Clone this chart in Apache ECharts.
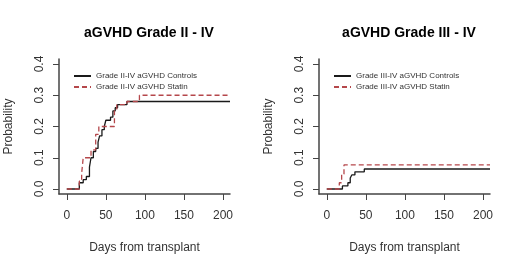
<!DOCTYPE html>
<html>
<head>
<meta charset="utf-8">
<script src="https://cdn.jsdelivr.net/npm/echarts@6/dist/echarts.min.js"></script>
<style>
  html, body { margin: 0; padding: 0; background: #fff; }
  #main { width: 520px; height: 269px; }
</style>
</head>
<body>
<div id="main"></div>
<script>
// panel titles and names
var titles = ['aGVHD Grade II - IV', 'aGVHD Grade III - IV'];
var namesLeft = ['Grade II-IV aGVHD Controls', 'Grade II-IV aGVHD Statin'];
var namesRight = ['Grade III-IV aGVHD Controls', 'Grade III-IV aGVHD Statin'];

// tick labels
var xTicks = [0, 50, 100, 150, 200];
var yTicks = [0, 0.1, 0.2, 0.3, 0.4];

// Grade II-IV, controls (day where step starts, cumulative probability)
var g2CtrlDays = [0, 16, 21, 25, 29, 31, 34, 37, 40, 42, 45, 48, 50, 56, 59, 62, 65, 77, 209];
var g2CtrlVals = [0, 0.02, 0.03, 0.04, 0.07, 0.10, 0.12, 0.13, 0.15, 0.17, 0.19, 0.20, 0.22, 0.23, 0.25, 0.26, 0.27, 0.28, 0.28];
// Grade II-IV, statin
var g2StatDays = [0, 16, 19, 21, 31, 37, 41, 61, 64, 77, 93, 209];
var g2StatVals = [0, 0.025, 0.05, 0.10, 0.125, 0.175, 0.20, 0.25, 0.27, 0.28, 0.30, 0.30];

// Grade III-IV, controls
var g3CtrlDays = [0, 20, 27, 30, 32, 36, 48, 209];
var g3CtrlVals = [0, 0.01, 0.02, 0.035, 0.045, 0.055, 0.064, 0.064];
// Grade III-IV, statin
var g3StatDays = [0, 16, 19, 22, 209];
var g3StatVals = [0, 0.02, 0.048, 0.077, 0.077];

function pairs(xs, ys) {
    var out = [];
    for (var i = 0; i < xs.length; i++) out.push([xs[i], ys[i]]);
    return out;
}

var FONT = '"Liberation Sans", Arial, sans-serif';
var AXIS_COLOR = '#444';
var TEXT_COLOR = '#333';
var RED = '#b5474b';

function xAxisFor(i) {
    return {
        type: 'value', gridIndex: i, min: -10, max: 209,
        name: 'Days from transplant', nameLocation: 'middle', nameGap: 48,
        nameTextStyle: { fontFamily: FONT, fontSize: 12, color: TEXT_COLOR },
        splitLine: { show: false },
        axisLine: { show: true, onZero: false, lineStyle: { color: AXIS_COLOR, width: 1.5 } },
        axisTick: { show: true, inside: false, length: 6, customValues: xTicks, lineStyle: { color: AXIS_COLOR } },
        axisLabel: { customValues: xTicks, margin: 16, fontFamily: FONT, fontSize: 12, color: TEXT_COLOR }
    };
}
function yAxisFor(i) {
    return {
        type: 'value', gridIndex: i, min: -0.016, max: 0.416,
        name: 'Probability', nameLocation: 'middle', nameGap: 44,
        nameTextStyle: { fontFamily: FONT, fontSize: 12, color: TEXT_COLOR },
        splitLine: { show: false },
        axisLine: { show: true, onZero: false, lineStyle: { color: AXIS_COLOR, width: 1.5 } },
        axisTick: { show: true, inside: false, length: 6, customValues: yTicks, lineStyle: { color: AXIS_COLOR } },
        axisLabel: {
            customValues: yTicks, rotate: 90, margin: 13,
            fontFamily: FONT, fontSize: 12, color: TEXT_COLOR,
            formatter: function (v) { return v.toFixed(1); }
        }
    };
}
function stepSeries(name, i, data, color, dashed) {
    return {
        name: name, type: 'line', step: 'end', xAxisIndex: i, yAxisIndex: i,
        data: data, symbol: 'none', showSymbol: false, animation: false,
        lineStyle: { color: color, width: 1.3, type: dashed ? [5, 3] : 'solid' },
        itemStyle: { color: color }
    };
}
function legendFor(i, names) {
    return {
        data: names, orient: 'vertical', left: 68 + i * 260, top: 67,
        itemWidth: 17, itemHeight: 8, itemGap: 3,
        itemStyle: { opacity: 0 },
        textStyle: { fontFamily: FONT, fontSize: 8, color: TEXT_COLOR }
    };
}

var chart = echarts.init(document.getElementById('main'), null, { renderer: 'canvas' });
chart.setOption({
    backgroundColor: '#fff',
    animation: false,
    title: [
        { text: titles[0], left: 144, top: 21, textAlign: 'center',
          textStyle: { fontFamily: FONT, fontSize: 14, fontWeight: 'bold', color: '#000' } },
        { text: titles[1], left: 404, top: 21, textAlign: 'center',
          textStyle: { fontFamily: FONT, fontSize: 14, fontWeight: 'bold', color: '#000' } }
    ],
    legend: [legendFor(0, namesLeft), legendFor(1, namesRight)],
    grid: [
        { left: 59, top: 59, width: 171, height: 135 },
        { left: 319, top: 59, width: 171, height: 135 }
    ],
    xAxis: [xAxisFor(0), xAxisFor(1)],
    yAxis: [yAxisFor(0), yAxisFor(1)],
    series: [
        stepSeries(namesLeft[0], 0, pairs(g2CtrlDays, g2CtrlVals), '#1a1a1a', false),
        stepSeries(namesLeft[1], 0, pairs(g2StatDays, g2StatVals), RED, true),
        stepSeries(namesRight[0], 1, pairs(g3CtrlDays, g3CtrlVals), '#1a1a1a', false),
        stepSeries(namesRight[1], 1, pairs(g3StatDays, g3StatVals), RED, true)
    ]
});
</script>
</body>
</html>
